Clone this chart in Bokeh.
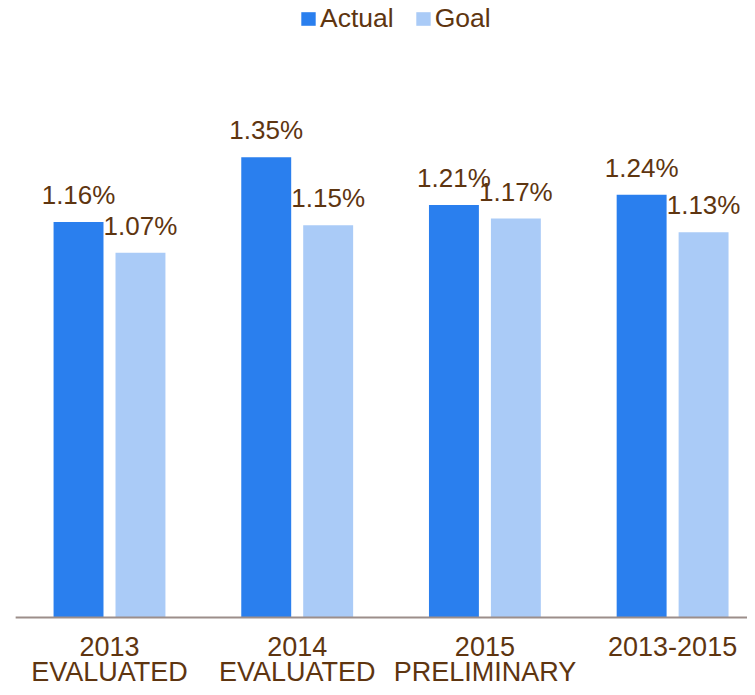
from bokeh.plotting import figure
from bokeh.models import ColumnDataSource, Range1d, Legend, LegendItem
from bokeh.core.properties import value
from bokeh.embed import file_html
from bokeh.resources import INLINE

cat_line1 = ["2013", "2014", "2015", "2013-2015"]
cat_line2 = ["EVALUATED", "EVALUATED", "PRELIMINARY", ""]
actual = [1.16, 1.35, 1.21, 1.24]
goal = [1.07, 1.15, 1.17, 1.13]

BROWN = "#5e3510"
ACTUAL_C = "#2a7fee"
GOAL_C = "#aacbf7"
AXIS_C = "#9c8e8a"
FONT = "Liberation Sans"

idx = list(range(len(cat_line1)))
offset = 0.165
bar_w = 0.266

src_a = ColumnDataSource(dict(x=[i - offset for i in idx], top=actual,
                              lab=["%.2f%%" % v for v in actual]))
src_g = ColumnDataSource(dict(x=[i + offset for i in idx], top=goal,
                              lab=["%.2f%%" % v for v in goal]))
src_c = ColumnDataSource(dict(x=idx, y=[0] * len(idx), l1=cat_line1, l2=cat_line2))

p = figure(width=747, height=687, output_backend="svg", toolbar_location=None,
           x_range=Range1d(-0.5807, 3.399), y_range=Range1d(-0.2053, 1.8094),
           min_border_left=0, min_border_right=0, min_border_top=0,
           min_border_bottom=0)
p.outline_line_color = None
p.xgrid.grid_line_color = None
p.ygrid.grid_line_color = None
p.xaxis.visible = False
p.yaxis.visible = False

ra = p.vbar(x="x", top="top", width=bar_w, bottom=0, source=src_a,
            fill_color=ACTUAL_C, line_color=None)
rg = p.vbar(x="x", top="top", width=bar_w, bottom=0, source=src_g,
            fill_color=GOAL_C, line_color=None)

# baseline (category axis line)
p.segment(x0=[-0.5], x1=[len(idx) - 0.5], y0=[0], y1=[0],
          line_color=AXIS_C, line_width=2)

for s in (src_a, src_g):
    p.text(x="x", y="top", text="lab", source=s, text_align="center",
           text_baseline="middle", y_offset=-27, text_color=BROWN,
           text_font=value(FONT), text_font_size="26px")

p.text(x="x", y="y", text="l1", source=src_c, text_align="center",
       text_baseline="middle", y_offset=29, text_color=BROWN,
       text_font=value(FONT), text_font_size="27px")
p.text(x="x", y="y", text="l2", source=src_c, text_align="center",
       text_baseline="middle", y_offset=55, text_color=BROWN,
       text_font=value(FONT), text_font_size="27px")

legend = Legend(items=[LegendItem(label="Actual", renderers=[ra]),
                       LegendItem(label="Goal", renderers=[rg])],
                orientation="horizontal", location=(299, 653),
                glyph_width=18, glyph_height=17, label_standoff=3, spacing=20,
                padding=0, margin=0, border_line_color=None,
                background_fill_alpha=0,
                label_text_font=FONT, label_text_font_size="26.5px",
                label_text_color=BROWN)
p.add_layout(legend)

open("out.html", "w").write(file_html(p, INLINE))
